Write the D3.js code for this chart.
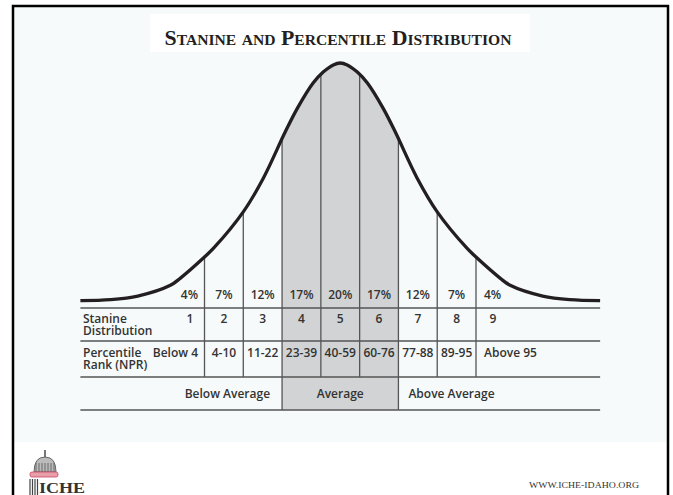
<!DOCTYPE html>
<meta charset='utf-8'>
<style>
body {
    margin: 0;
    background: #fff;
}

.cell {
    font-family: 'Open Sans', sans-serif;
    font-size: 12px;
    font-weight: 600;
    fill: #333;
}

.title {
    font-family: 'Liberation Serif', serif;
    font-weight: bold;
    font-variant: small-caps;
    font-size: 21px;
    fill: #231f20;
}

.rule {
    stroke: #555;
    stroke-width: 1.3px;
}
</style>

<body>
    <div class='chart'></div>
    <script src='https://cdn.jsdelivr.net/npm/d3@7'></script>
    <script>
    // stanine values
    var stanines = [1, 2, 3, 4, 5, 6, 7, 8, 9];
    var percents = [4, 7, 12, 17, 20, 17, 12, 7, 4];
    var ranks = ['Below 4', '4-10', '11-22', '23-39', '40-59', '60-76', '77-88', '89-95', 'Above 95'];
    // band edges in SD units
    var edges = [-1.75, -1.25, -0.75, -0.25, 0.25, 0.75, 1.25, 1.75];
    var groups = ['Below Average', 'Average', 'Above Average'];
    var rowLabels = [['Stanine', 'Distribution'], ['Percentile', 'Rank (NPR)']];

    // curve: z and height (% of peak)
    var curveZ = [-3.35, -2.96, -2.61, -2.19, -2.06, -1.75, -1.63, -1.25, -0.99, -0.71, -0.55, -0.35, -0.22, -0.09, 0,
                  0.09, 0.22, 0.35, 0.55, 0.71, 0.99, 1.25, 1.63, 1.75, 2.06, 2.19, 2.61, 2.96, 3.35];
    var curveH = [0.6, 1, 2.5, 7, 10, 18.8, 22.6, 37.7, 51.9, 71.1, 81.2, 91.6, 96.2, 99.2, 100,
                  99.2, 96.2, 91.6, 81.2, 71.1, 51.9, 37.7, 22.6, 18.8, 10, 7, 2.5, 1, 0.6];

    var width = 673, height = 495;
    var rowY = [308, 341, 377, 410];

    var x = d3.scaleLinear().domain([-1.75, 1.75]).range([204.5, 476]);
    var y = d3.scaleLinear().domain([0, 100]).range([302, 63]);

    var svg = d3.select('.chart').append('svg')
        .attr('width', width)
        .attr('height', height);

    // page frame
    svg.append('rect').attr('x', 14).attr('y', 7).attr('width', 653).attr('height', 435).attr('fill', '#f6fafa');
    svg.append('rect').attr('x', 150).attr('y', 14).attr('width', 380).attr('height', 38).attr('fill', '#fff');
    svg.append('path').attr('d', 'M13,495V6H668V495').attr('fill', 'none').attr('stroke', '#000').attr('stroke-width', 2.5);

    svg.append('text')
        .attr('class', 'title')
        .attr('x', 338).attr('y', 45)
        .attr('text-anchor', 'middle')
        .attr('textLength', 347)
        .attr('lengthAdjust', 'spacingAndGlyphs')
        .text('Stanine and Percentile Distribution');

    var pts = curveZ.map(function(z, i) { return [x(z), y(curveH[i])]; });

    var line = d3.line().curve(d3.curveCatmullRom);
    var area = d3.area().curve(d3.curveCatmullRom)
        .x(function(d) { return d[0]; })
        .y1(function(d) { return d[1]; })
        .y0(rowY[3]);

    // area under curve + table, used to clip band and dividers
    svg.append('clipPath').attr('id', 'under')
        .append('path').attr('d', area(pts));

    svg.append('rect')
        .attr('x', x(-0.75)).attr('y', 0)
        .attr('width', x(0.75) - x(-0.75)).attr('height', rowY[3])
        .attr('fill', '#d1d3d4')
        .attr('clip-path', 'url(#under)');

    svg.append('g').attr('clip-path', 'url(#under)')
        .selectAll('line').data(edges).enter().append('line')
        .attr('class', 'rule')
        .attr('x1', function(d) { return x(d); })
        .attr('x2', function(d) { return x(d); })
        .attr('y1', 0)
        .attr('y2', function(d) { return Math.abs(d) === 0.75 ? rowY[3] : rowY[2]; });

    svg.selectAll('.hrule').data(rowY).enter().append('line')
        .attr('class', 'rule')
        .attr('x1', x(-3.35)).attr('x2', x(3.35))
        .attr('y1', function(d) { return d; })
        .attr('y2', function(d) { return d; });

    svg.append('path')
        .attr('d', line(pts))
        .attr('fill', 'none')
        .attr('stroke', '#231f20')
        .attr('stroke-width', 3.3);

    // column text positions
    function colX(i) {
        if (i === 0) return 198;
        if (i === 8) return x(1.75) + 8;
        return (x(edges[i - 1]) + x(edges[i])) / 2;
    }
    function colAnchor(i) {
        return i === 0 ? 'end' : (i === 8 ? 'start' : 'middle');
    }

    svg.selectAll('.pct').data(percents).enter().append('text')
        .attr('class', 'cell')
        .attr('x', function(d, i) { return colX(i); })
        .attr('y', 299)
        .attr('text-anchor', function(d, i) { return colAnchor(i); })
        .text(function(d) { return d + '%'; });

    svg.selectAll('.stn').data(stanines).enter().append('text')
        .attr('class', 'cell')
        .attr('x', function(d, i) { return i === 0 ? 190 : (i === 8 ? 493 : colX(i)); })
        .attr('y', 323)
        .attr('text-anchor', 'middle')
        .text(function(d) { return d; });

    svg.selectAll('.rank').data(ranks).enter().append('text')
        .attr('class', 'cell')
        .attr('x', function(d, i) { return colX(i); })
        .attr('y', 357)
        .attr('text-anchor', function(d, i) { return colAnchor(i); })
        .text(function(d) { return d; });

    var lab = svg.selectAll('.lab').data(rowLabels).enter().append('text')
        .attr('class', 'cell')
        .attr('x', 83)
        .attr('y', function(d, i) { return [323, 357][i]; });
    lab.append('tspan').text(function(d) { return d[0]; });
    lab.append('tspan').attr('x', 83).attr('dy', 12).text(function(d) { return d[1]; });

    svg.selectAll('.grp').data(groups).enter().append('text')
        .attr('class', 'cell')
        .attr('x', function(d, i) { return [x(-0.75) - 12, x(0), x(0.75) + 10][i]; })
        .attr('y', 398)
        .attr('text-anchor', function(d, i) { return ['end', 'middle', 'start'][i]; })
        .text(function(d) { return d; });

    // footer
    svg.append('text')
        .attr('x', 529).attr('y', 488)
        .attr('textLength', 110)
        .attr('lengthAdjust', 'spacingAndGlyphs')
        .style('font-family', 'Liberation Serif, serif')
        .style('font-size', '9px')
        .style('fill', '#333')
        .text('WWW.ICHE-IDAHO.ORG');

    var logo = svg.append('g');
    logo.append('line').attr('x1', 45).attr('x2', 45).attr('y1', 450).attr('y2', 458).attr('stroke', '#777').attr('stroke-width', 2);
    logo.append('path').attr('d', 'M34,472 Q34,457 45,457 Q56,457 56,472 Z').attr('fill', '#bbb').attr('stroke', '#666');
    d3.range(36, 56, 3).forEach(function(v) {
        logo.append('line').attr('x1', v).attr('x2', v).attr('y1', 463).attr('y2', 472).attr('stroke', '#555').attr('stroke-width', 0.8);
    });
    logo.append('rect').attr('x', 30).attr('y', 472).attr('width', 28).attr('height', 5).attr('rx', 2).attr('fill', '#e8a0a8').attr('stroke', '#c46').attr('stroke-width', 0.8);
    d3.range(30, 40, 2.5).forEach(function(v) {
        logo.append('line').attr('x1', v).attr('x2', v).attr('y1', 479).attr('y2', 495).attr('stroke', '#444').attr('stroke-width', 1.2);
    });
    logo.append('text')
        .attr('x', 39).attr('y', 493)
        .attr('textLength', 46)
        .attr('lengthAdjust', 'spacingAndGlyphs')
        .style('font-family', 'Liberation Serif, serif')
        .style('font-weight', 'bold')
        .style('font-size', '15px')
        .style('fill', '#333')
        .text('ICHE');
    </script>
